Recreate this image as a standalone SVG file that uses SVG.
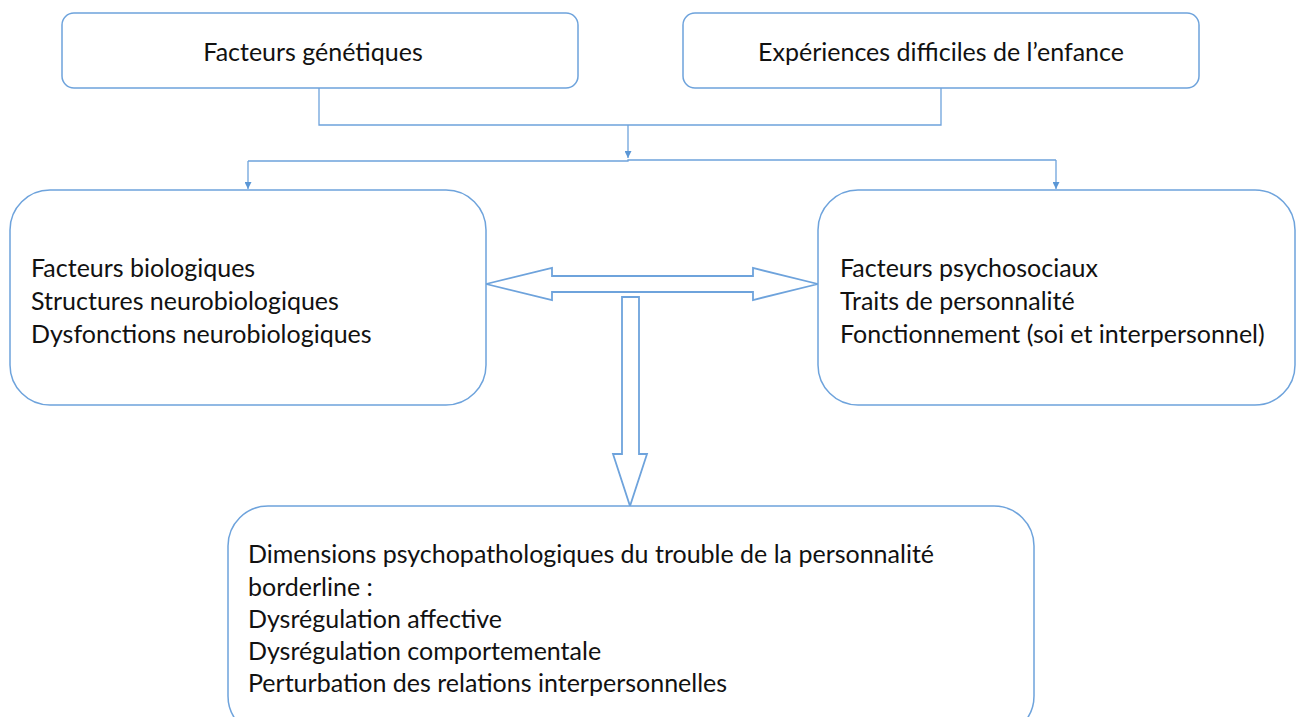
<svg xmlns="http://www.w3.org/2000/svg" width="1297" height="717" viewBox="0 0 1297 717">
<defs>
<style>
.box{fill:#fff;stroke:#6ea3dc;stroke-width:1.5}
.ln{fill:none;stroke:#6ea3dc;stroke-width:1.3}
.blk{fill:#fff;stroke:#6ea3dc;stroke-width:1.8;stroke-linejoin:miter}
.t{font-family:Lato,"Open Sans",sans-serif;font-size:25px;fill:#111}
</style>
<marker id="ah" viewBox="0 0 10 10" refX="10" refY="5" markerWidth="7" markerHeight="7" orient="auto" markerUnits="userSpaceOnUse">
<path d="M0,0 L10,5 L0,10 Z" fill="#5b97d6"/>
</marker>
</defs>
<rect width="1297" height="717" fill="#fff"/>
<g id="connectors">
<path class="ln" d="M319,88 V125 H941 V88"/>
<path class="ln" d="M628,125 V158" marker-end="url(#ah)"/>
<path class="ln" d="M248,161 H628 V160 H1056"/>
<path class="ln" d="M248,161 V189" marker-end="url(#ah)"/>
<path class="ln" d="M1056,160 V189" marker-end="url(#ah)"/>
<path class="blk" d="M486,284 L552,268 L552,276 L753,276 L753,268 L818,284 L753,300 L753,292 L552,292 L552,300 Z"/>
<path class="blk" d="M622,297 H639 V454 H647 L630,506 L613,454 H622 Z"/>
</g>
<g id="genetiques">
<rect class="box" x="62" y="13" width="516" height="75" rx="12"/>
<text class="t" x="313" y="61" text-anchor="middle">Facteurs génétiques</text>
</g>
<g id="experiences">
<rect class="box" x="683" y="13" width="516" height="75" rx="12"/>
<text class="t" x="941" y="61" text-anchor="middle">Expériences difficiles de l’enfance</text>
</g>
<g id="biologiques">
<rect class="box" x="10" y="190" width="476" height="215" rx="40"/>
<text class="t" x="31" y="277">Facteurs biologiques</text>
<text class="t" x="31" y="310">Structures neurobiologiques</text>
<text class="t" x="31" y="343">Dysfonctions neurobiologiques</text>
</g>
<g id="psychosociaux">
<rect class="box" x="818" y="190" width="477" height="215" rx="40"/>
<text class="t" x="840" y="277">Facteurs psychosociaux</text>
<text class="t" x="840" y="310">Traits de personnalité</text>
<text class="t" x="840" y="343">Fonctionnement (soi et interpersonnel)</text>
</g>
<g id="dimensions">
<rect class="box" x="228" y="506" width="806" height="230" rx="40"/>
<text class="t" x="248" y="563">Dimensions psychopathologiques du trouble de la personnalité</text>
<text class="t" x="248" y="596">borderline :</text>
<text class="t" x="248" y="628">Dysrégulation affective</text>
<text class="t" x="248" y="660">Dysrégulation comportementale</text>
<text class="t" x="248" y="692">Perturbation des relations interpersonnelles</text>
</g>
</svg>
